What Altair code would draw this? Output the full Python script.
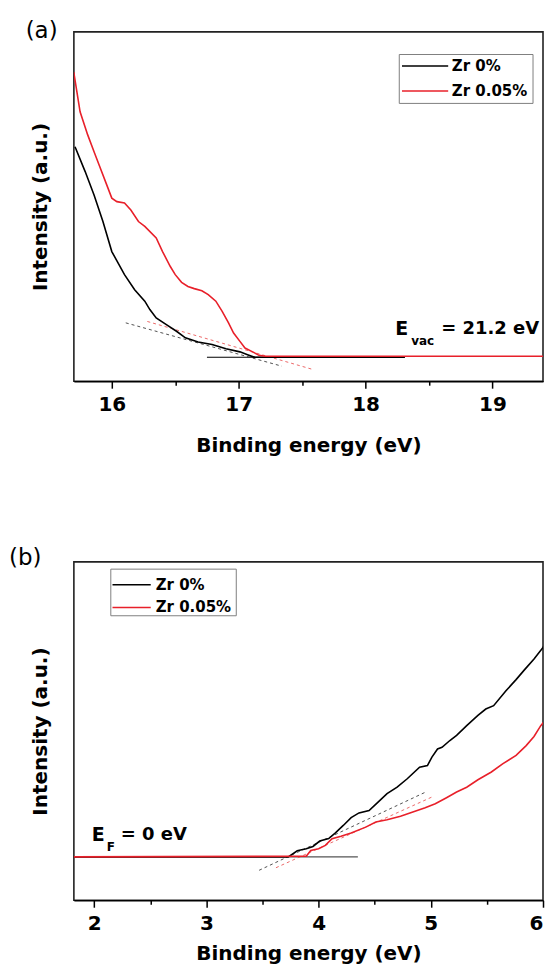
import altair as alt
import pandas as pd

FONT = "DejaVu Sans"
BLACK = "#000000"
RED = "#e8202a"

# ---------------- panel (a): secondary-electron cutoff ----------------
A_XDOM = [15.701, 19.399]
A_TICKS = [16, 16.5, 17, 17.5, 18, 18.5, 19]
A0_X = [15.71, 15.79, 15.86, 15.93, 16.00, 16.10, 16.18, 16.26, 16.30, 16.35, 16.43,
        16.51, 16.58, 16.68, 16.79, 16.90, 17.01, 17.07, 17.12, 17.20, 18.31]
A0_Y = [67.1, 60.0, 53.3, 45.7, 37.1, 30.5, 26.2, 22.9, 20.5, 18.1, 16.2,
        14.3, 12.4, 11.2, 10.5, 9.3, 8.4, 7.6, 6.9, 6.86, 6.86]
A5_X = [15.70, 15.75, 15.81, 15.86, 15.90, 15.96, 16.00, 16.04, 16.10, 16.15, 16.21,
        16.26, 16.35, 16.40, 16.46, 16.50, 16.55, 16.60, 16.65, 16.71, 16.76, 16.82,
        16.87, 16.92, 16.96, 17.01, 17.05, 17.11, 17.16, 17.21, 19.47]
A5_Y = [88.5, 77.1, 70.5, 65.7, 61.9, 56.2, 52.4, 51.4, 51.0, 49.0, 45.7,
        44.3, 41.0, 37.1, 32.9, 30.5, 28.3, 27.1, 26.5, 25.9, 24.8, 22.9,
        20.0, 16.7, 13.8, 11.4, 9.5, 8.4, 7.4, 7.14, 7.14]
A_FIT0_X = [16.11, 17.34]
A_FIT0_Y = [16.7, 4.3]
A_FIT5_X = [16.28, 17.59]
A_FIT5_Y = [17.1, 3.3]
A_BASE_X = [16.75, 18.31]
A_BASE_Y = [6.86, 6.86]

# ---------------- panel (b): valence-band edge ----------------
B_XDOM = [1.819, 6.0]
B_TICKS = [2, 2.5, 3, 3.5, 4, 4.5, 5, 5.5, 6]
B0_X = [1.80, 3.73, 3.81, 3.89, 3.95, 4.01, 4.09, 4.15, 4.22, 4.29, 4.36, 4.45, 4.53,
        4.61, 4.70, 4.79, 4.90, 4.97, 5.01, 5.06, 5.10, 5.17, 5.23, 5.32, 5.42, 5.49,
        5.56, 5.67, 5.76, 5.84, 5.92, 6.00, 6.056]
B0_Y = [12.8, 12.8, 14.6, 15.2, 15.9, 17.5, 18.2, 19.9, 22.1, 24.4, 25.8, 26.5, 29.0,
        31.5, 33.4, 35.9, 39.3, 39.8, 42.3, 44.7, 45.2, 47.2, 48.7, 51.6, 54.6, 56.5,
        57.5, 61.9, 65.2, 68.3, 71.3, 74.7, 79.2]
B5_X = [1.80, 3.89, 3.93, 4.00, 4.06, 4.12, 4.20, 4.29, 4.42, 4.51, 4.61, 4.73, 4.84,
        4.95, 5.04, 5.14, 5.23, 5.32, 5.42, 5.54, 5.64, 5.76, 5.85, 5.92, 5.98, 6.056]
B5_Y = [12.8, 13.0, 14.7, 15.2, 16.2, 18.2, 18.9, 19.9, 21.6, 23.1, 23.8, 24.8, 26.1,
        27.3, 28.5, 30.3, 32.0, 33.4, 35.6, 37.9, 40.3, 42.8, 45.7, 48.4, 51.6, 54.6]
B_FIT0_X = [3.47, 4.95]
B_FIT0_Y = [8.85, 31.9]
B_FIT5_X = [3.62, 5.01]
B_FIT5_Y = [9.6, 30.5]
B_BASE_X = [1.80, 4.35]
B_BASE_Y = [12.8, 12.8]

LEGEND_LABELS = ["Zr 0%", "Zr 0.05%"]
W = 470


def df(xs, ys):
    return pd.DataFrame({"x": xs, "y": ys})


def xenc(domain, values, label_pad, title_pad):
    return alt.X(
        "x:Q",
        scale=alt.Scale(domain=domain, nice=False, zero=False),
        axis=alt.Axis(
            title="Binding energy (eV)",
            values=values,
            labelExpr="datum.value % 1 === 0 ? format(datum.value, 'd') : ''",
            tickSize={"condition": {"test": "datum.value % 1 === 0", "value": 7}, "value": 4},
            labelPadding=label_pad,
            labelFlush=True,
            titlePadding=title_pad,
            grid=False,
        ),
    )


def yenc():
    return alt.Y(
        "y:Q",
        scale=alt.Scale(domain=[0, 100], nice=False, zero=False),
        axis=alt.Axis(title="Intensity (a.u.)", labels=False, ticks=False,
                      domain=False, grid=False, titlePadding=23),
    )


ONE = pd.DataFrame({"k": [0]})


def txt(text, x, y, size, weight="bold", color=BLACK, opacity=1.0):
    return alt.Chart(ONE).mark_text(
        text=text, align="left", baseline="middle", font=FONT, fontSize=size,
        fontWeight=weight, color=color, opacity=opacity
    ).encode(x=alt.value(x), y=alt.value(y))


def legend(x0, x1, y0, y1, lx0, lx1, ly, tx):
    box = alt.Chart(ONE).mark_rect(fill="white", stroke="#808080", strokeWidth=1).encode(
        x=alt.value(x0), x2=alt.value(x1), y=alt.value(y0), y2=alt.value(y1))
    parts = [box]
    for lab, col, yy in zip(LEGEND_LABELS, [BLACK, RED], ly):
        parts.append(alt.Chart(ONE).mark_rule(color=col, strokeWidth=1.5).encode(
            x=alt.value(lx0), x2=alt.value(lx1), y=alt.value(yy)))
        parts.append(txt(lab, tx, yy, 15))
    return parts


def panel(dom, ticks, c0, c5, f0, f5, base, base_color, label_pad, title_pad,
          annot, leg, plabel, h):
    X = xenc(dom, ticks, label_pad, title_pad)
    Y = yenc()
    layers = [
        alt.Chart(df(*base)).mark_line(color=base_color, strokeWidth=1.2, clip=True).encode(x=X, y=Y),
        alt.Chart(df(*f0)).mark_line(color="#333333", strokeWidth=1, strokeDash=[3, 3],
                                     opacity=0.85, clip=True).encode(x=X, y=Y),
        alt.Chart(df(*f5)).mark_line(color="#e85050", strokeWidth=1, strokeDash=[3, 3],
                                     opacity=0.85, clip=True).encode(x=X, y=Y),
        alt.Chart(df(*c0)).mark_line(color=BLACK, strokeWidth=1.6, clip=True).encode(x=X, y=Y),
        alt.Chart(df(*c5)).mark_line(color=RED, strokeWidth=1.6, clip=True).encode(x=X, y=Y),
    ]
    for (t, ax, ay, size) in annot:
        layers.append(
            alt.Chart(pd.DataFrame({"x": [ax], "y": [ay]})).mark_text(
                text=t, align="left", baseline="middle", font=FONT, fontSize=size,
                fontWeight="bold", color=BLACK).encode(x=X, y=Y))
    layers += leg
    layers += plabel
    return alt.layer(*layers).properties(width=W, height=h)


panel_a = panel(
    A_XDOM, A_TICKS, (A0_X, A0_Y), (A5_X, A5_Y), (A_FIT0_X, A_FIT0_Y), (A_FIT5_X, A_FIT5_Y),
    (A_BASE_X, A_BASE_Y), BLACK, 6, 21,
    [("E", 18.234, 14.9, 19), ("vac", 18.36, 11.4, 12), ("= 21.2 eV", 18.596, 14.9, 18)],
    legend(326, 460, 22.7, 71.7, 328.7, 375, [34.3, 59.3], 378.7),
    [txt("(a)", -48.3, -1, 23, weight="normal"), txt("(b)", -65, -1, 23, weight="normal", opacity=0)],
    350,
)

panel_b = panel(
    B_XDOM, B_TICKS, (B0_X, B0_Y), (B5_X, B5_Y), (B_FIT0_X, B_FIT0_Y), (B_FIT5_X, B_FIT5_Y),
    (B_BASE_X, B_BASE_Y), "#555555", 6, 10,
    [("E", 1.979, 19.2, 19), ("F", 2.113, 15.6, 12), ("= 0 eV", 2.237, 19.2, 18)],
    legend(37, 162.7, 7.3, 54, 38.7, 77, [23, 45.7], 82),
    [txt("(b)", -65, -3.5, 23, weight="normal")],
    339,
)

chart = alt.vconcat(panel_a, panel_b, spacing=181, bounds="flush").properties(
    padding={"left": 0, "top": 10, "right": 0, "bottom": 0}
).configure_axis(
    labelFont=FONT, labelFontWeight="bold", labelFontSize=20, labelColor=BLACK,
    titleFont=FONT, titleFontWeight="bold", titleFontSize=20, titleColor=BLACK,
    domainColor=BLACK, domainWidth=1.5, tickColor=BLACK, tickWidth=1.5,
).configure_view(stroke="#222222", strokeWidth=1.6)

chart.save("out.html", embed_options={"renderer": "svg", "actions": False})
